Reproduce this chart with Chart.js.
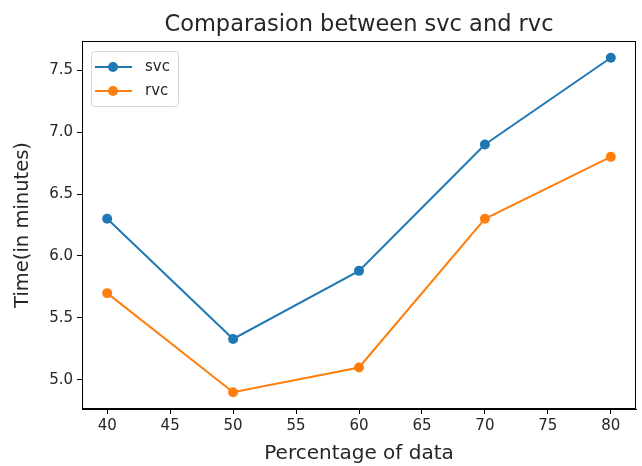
<!DOCTYPE html>
<html>
<head>
<meta charset="utf-8">
<script src="https://cdn.jsdelivr.net/npm/chart.js@4"></script>
<style>
  html, body { margin: 0; padding: 0; background: #fff; }
  #wrap { width: 642px; height: 466px; }
</style>
</head>
<body>
<div id="wrap"><canvas id="chart" width="642" height="466"></canvas></div>
<script>
// Data
const percentages = [40, 50, 60, 70, 80];
const svcTimes = [6.3, 5.33, 5.88, 6.9, 7.6];
const rvcTimes = [5.7, 4.9, 5.1, 6.3, 6.8];
const xTicks = [40, 45, 50, 55, 60, 65, 70, 75, 80];
const yTicks = [5.0, 5.5, 6.0, 6.5, 7.0, 7.5];

const FONT = "'DejaVu Sans', sans-serif";
const TEXT = "#262626";

// Title over the axes and legend inside, like matplotlib draws them
const framePlugin = {
  id: "frame",
  afterDraw(chart) {
    const { ctx, chartArea: a } = chart;
    ctx.save();
    // axes frame
    ctx.strokeStyle = "#000";
    ctx.lineWidth = 1;
    ctx.strokeRect(a.left + 0.5, a.top + 0.5, a.right - a.left - 1, a.bottom - a.top - 1);

    // title
    ctx.fillStyle = TEXT;
    ctx.font = "22.5px " + FONT;
    ctx.textAlign = "center";
    ctx.textBaseline = "middle";
    ctx.fillText("Comparasion between svc and rvc", (a.left + a.right) / 2, 25);

    // legend box
    const bx = a.left + 9, by = a.top + 10, bw = 87, bh = 55;
    ctx.fillStyle = "rgba(255,255,255,0.8)";
    ctx.strokeStyle = "#d6d6d6";
    ctx.beginPath();
    ctx.roundRect(bx + 0.5, by + 0.5, bw, bh, 3);
    ctx.fill();
    ctx.stroke();
    ctx.font = "15px " + FONT;
    ctx.textAlign = "left";
    chart.data.datasets.forEach((ds, i) => {
      const y = by + 16 + i * 24;
      ctx.strokeStyle = ds.borderColor;
      ctx.lineWidth = 2;
      ctx.beginPath();
      ctx.moveTo(bx + 4, y);
      ctx.lineTo(bx + 41, y);
      ctx.stroke();
      ctx.fillStyle = ds.borderColor;
      ctx.beginPath();
      ctx.arc(bx + 22, y, 5, 0, Math.PI * 2);
      ctx.fill();
      ctx.fillStyle = TEXT;
      ctx.fillText(ds.label, bx + 54, y);
    });
    ctx.restore();
  },
};

new Chart(document.getElementById("chart"), {
  type: "line",
  data: {
    datasets: [
      {
        label: "svc",
        data: percentages.map((p, i) => ({ x: p, y: svcTimes[i] })),
        borderColor: "#1f77b4",
        backgroundColor: "#1f77b4",
        borderWidth: 2,
        pointRadius: 5,
        pointBorderWidth: 0,
        tension: 0,
      },
      {
        label: "rvc",
        data: percentages.map((p, i) => ({ x: p, y: rvcTimes[i] })),
        borderColor: "#ff7f0e",
        backgroundColor: "#ff7f0e",
        borderWidth: 2,
        pointRadius: 5,
        pointBorderWidth: 0,
        tension: 0,
      },
    ],
  },
  options: {
    responsive: false,
    animation: false,
    layout: { padding: { left: 10, right: 6, top: 41, bottom: 0 } },
    plugins: {
      legend: { display: false },
      title: { display: false },
      tooltip: { enabled: false },
    },
    scales: {
      x: {
        type: "linear",
        min: 38,
        max: 82,
        afterBuildTicks(scale) {
          scale.ticks = xTicks.map((v) => ({ value: v }));
        },
        afterFit(scale) {
          scale.height = 466 - 409;
        },
        grid: { drawOnChartArea: false, drawTicks: true, tickLength: 5, color: "#000" },
        border: { display: true, color: "#000" },
        ticks: { color: TEXT, font: { family: FONT, size: 15 }, padding: 3 },
        title: {
          display: true,
          text: "Percentage of data",
          color: TEXT,
          font: { family: FONT, size: 20 },
          padding: { top: 0, bottom: 0 },
        },
      },
      y: {
        min: 4.765,
        max: 7.735,
        afterBuildTicks(scale) {
          scale.ticks = yTicks.map((v) => ({ value: v }));
        },
        afterFit(scale) {
          scale.width = 82 - 10;
        },
        grid: { drawOnChartArea: false, drawTicks: true, tickLength: 5, color: "#000" },
        border: { display: true, color: "#000" },
        ticks: {
          color: TEXT,
          font: { family: FONT, size: 15 },
          padding: 4,
          callback: (v) => v.toFixed(1),
        },
        title: {
          display: true,
          text: "Time(in minutes)",
          color: TEXT,
          font: { family: FONT, size: 19.5 },
          padding: { top: 1, bottom: 0 },
        },
      },
    },
  },
  plugins: [framePlugin],
});
</script>
</body>
</html>
